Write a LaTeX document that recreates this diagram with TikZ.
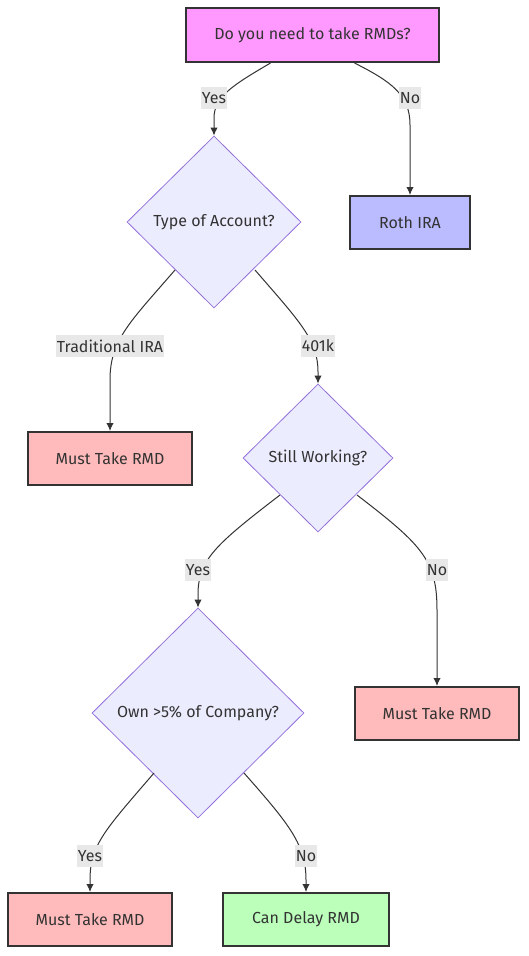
\documentclass[tikz,border=0pt]{standalone}
\usepackage{fontspec}
\setmainfont{Fira Sans}
\usetikzlibrary{shapes.geometric,calc,arrows.meta}
\definecolor{rmdink}{HTML}{333333}
\definecolor{rmdpink}{HTML}{FF99FF}
\definecolor{rmdblue}{HTML}{BBBBFF}
\definecolor{rmdred}{HTML}{FFBBBB}
\definecolor{rmdgreen}{HTML}{BBFFBB}
\definecolor{rmddia}{HTML}{ECECFF}
\definecolor{rmddiaedge}{HTML}{9370DB}
\definecolor{rmdlbl}{HTML}{E8E8E8}

\begin{document}
\begin{tikzpicture}[
        x=0.75pt, y=-0.75pt,
        every node/.style={font=\fontsize{12}{14}\selectfont, text=rmdink},
        box/.style={
          draw=rmdink, line width=1.5pt,
          minimum height=39.75pt, align=center,
        },
        dia/.style={
          diamond, draw=rmddiaedge, line width=0.6pt,
          fill=rmddia, inner sep=0pt, align=center,
        },
        arr/.style={-{Latex[length=6pt,width=5.5pt]}, draw=rmdink, line width=0.75pt},
        lbl/.style={fill=rmdlbl, inner xsep=0.5pt, minimum height=17pt},
      ]
      \useasboundingbox (0,0) rectangle (528,956);

      \node[box, fill=rmdpink, minimum width=189.75pt, minimum height=40.5pt] (q) at (312.5,35) {Do you need to take RMDs?};
      \node[box, fill=rmdblue, minimum width=90pt] (roth) at (410,222.5) {Roth IRA};
      \node[dia, minimum width=130.5pt, minimum height=129pt] (acct) at (214,222) {Type of Account?};
      \node[box, fill=rmdred, minimum width=123pt] (must1) at (110,458.5) {Must Take RMD};
      \node[dia, minimum width=112.5pt, minimum height=111pt] (work) at (318,458) {Still Working?};
      \node[box, fill=rmdred, minimum width=123pt] (must2) at (437,713.5) {Must Take RMD};
      \node[dia, minimum width=159pt, minimum height=157.5pt] (own) at (198,713) {Own >5\% of Company?};
      \node[box, fill=rmdred, minimum width=123pt] (must3) at (90,919.5) {Must Take RMD};
      \node[box, fill=rmdgreen, minimum width=124.5pt] (delay) at (306,919.5) {Can Delay RMD};

      % label spots on the edges
      \coordinate (yes1) at (214,98);
      \coordinate (no1) at (410,98);
      \coordinate (ira) at (110,346);
      \coordinate (k401) at (318,346);
      \coordinate (yes2) at (198,570);
      \coordinate (no2) at (437,570);
      \coordinate (yes3) at (90,856);
      \coordinate (no3) at (306,856);

      \draw[arr] ($(q.south)+(-42,0)$) .. controls (235,84) and (214,96) .. ($(yes1)+(0,20)$) -- (acct.north);
      \draw[arr] ($(q.south)+(42,0)$) .. controls (392,82) and (410,95) .. ($(no1)+(0,27)$) -- (roth.north);
      \draw[arr] ($(acct.center)+(-39,48)$) .. controls (130,322) and (110,340) .. ($(ira)+(0,34)$) -- (must1.north);
      \draw[arr] ($(acct.center)+(41,48)$) .. controls (300,322) and (318,340) .. ($(k401)+(0,26)$) -- (work.north);
      \draw[arr] ($(work.center)+(-38,37)$) .. controls (215,545) and (198,560) .. ($(yes2)+(0,25)$) -- (own.north);
      \draw[arr] ($(work.center)+(39,37)$) .. controls (422,545) and (437,560) .. ($(no2)+(0,40)$) -- (must2.north);
      \draw[arr] ($(own.center)+(-44,60)$) .. controls (105,830) and (90,845) .. ($(yes3)+(0,24)$) -- (must3.north);
      \draw[arr] ($(own.center)+(46,60)$) .. controls (290,825) and (306,845) .. ($(no3)+(0,24)$) -- (delay.north);

      \node[lbl] at (yes1) {Yes};
      \node[lbl] at (no1) {No};
      \node[lbl] at (ira) {Traditional IRA};
      \node[lbl] at (k401) {401k};
      \node[lbl] at (yes2) {Yes};
      \node[lbl] at (no2) {No};
      \node[lbl] at (yes3) {Yes};
      \node[lbl] at (no3) {No};
    \end{tikzpicture}
\end{document}
